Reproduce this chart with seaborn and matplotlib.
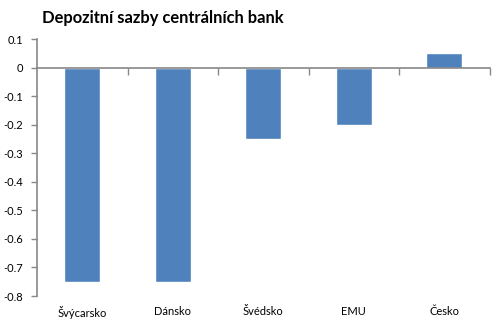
import matplotlib
matplotlib.use("Agg")
import matplotlib.pyplot as plt
import seaborn as sns
import pandas as pd
from matplotlib.ticker import FixedLocator, FuncFormatter, NullFormatter

# Deposit rates of central banks (%)
countries = ["Švýcarsko", "Dánsko", "Švédsko", "EMU", "Česko"]
rates = [-0.75, -0.75, -0.25, -0.20, 0.05]
y_ticks = [0.1, 0.0, -0.1, -0.2, -0.3, -0.4, -0.5, -0.6, -0.7, -0.8]

sns.set_theme(style="white")
plt.rcParams["font.family"] = ["Lato", "DejaVu Sans"]
plt.rcParams["axes.unicode_minus"] = False

df = pd.DataFrame({"country": countries, "rate": rates})

fig = plt.figure(figsize=(4.96, 3.24), dpi=100)
ax = fig.add_axes([0.0746, 0.0864, 0.9124, 0.7932])

bar_color = "#4F81BD"
axis_color = "#888888"

sns.barplot(data=df, x="country", y="rate", color=bar_color, width=0.4,
            saturation=1, ax=ax)

ax.set_ylim(-0.8, 0.1)
ax.set_xlim(-0.5, len(countries) - 0.5)
ax.yaxis.set_major_locator(FixedLocator(y_ticks))
ax.yaxis.set_major_formatter(FuncFormatter(lambda v, _: "0" if abs(v) < 1e-9 else f"{v:.1f}"))
ax.set_xlabel("")
ax.set_ylabel("")

for s in ["top", "right", "bottom"]:
    ax.spines[s].set_visible(False)
ax.spines["left"].set_color(axis_color)
ax.spines["left"].set_linewidth(1.2)

ax.tick_params(axis="y", which="major", direction="out", length=4, width=1,
               color=axis_color, labelsize=8, pad=6, labelcolor="#000000", left=True)
ax.tick_params(axis="x", which="major", length=0, labelsize=8, pad=7,
               labelcolor="#000000")

# Category axis drawn along the zero line, with ticks between categories
cat = ax.twiny()
cat.set_xlim(ax.get_xlim())
for s in ["top", "right", "left"]:
    cat.spines[s].set_visible(False)
cat.spines["bottom"].set_visible(True)
cat.spines["bottom"].set_position(("data", 0))
cat.spines["bottom"].set_color(axis_color)
cat.spines["bottom"].set_linewidth(1.2)
cat.xaxis.set_ticks_position("bottom")
cat.set_xticks([i + 0.5 for i in range(len(countries))])
cat.xaxis.set_major_formatter(NullFormatter())
cat.tick_params(axis="x", which="both", direction="out", length=5, width=1,
                color=axis_color, bottom=True, top=False,
                labelbottom=False, labeltop=False)

fig.text(0.085, 0.943, "Depozitní sazby centrálních bank", fontsize=11.9,
         fontweight="bold", ha="left", va="center", color="#000000")

fig.savefig("out.png", dpi=100, facecolor="white")
